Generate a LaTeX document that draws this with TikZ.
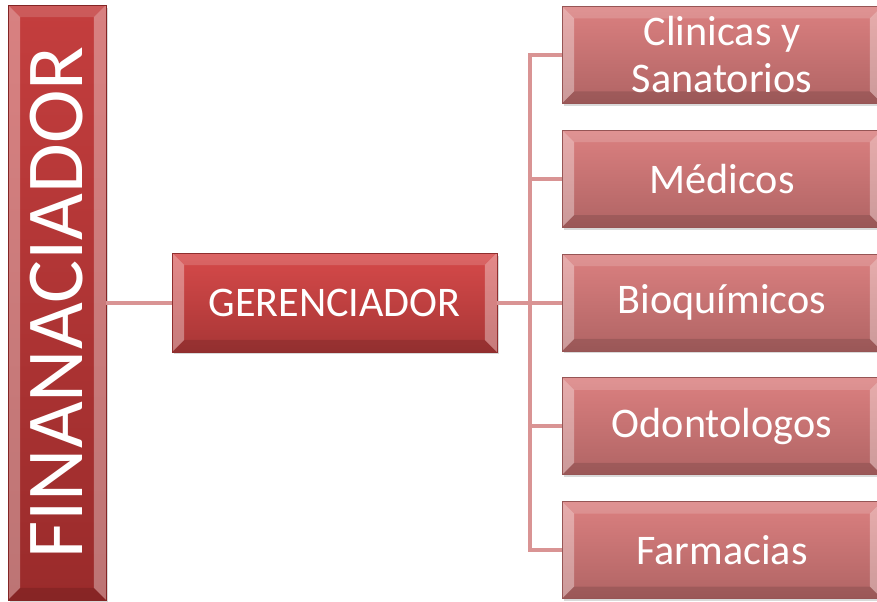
\documentclass[tikz,border=0pt]{standalone}
\usepackage{fontspec}
\setmainfont{Carlito}
\usetikzlibrary{positioning,shadows}

\definecolor{finTop}{HTML}{C43E3E}
\definecolor{finBot}{HTML}{9A2B2B}
\definecolor{gerTop}{HTML}{D64A4A}
\definecolor{gerBot}{HTML}{A83636}
\definecolor{preTop}{HTML}{DB8080}
\definecolor{preBot}{HTML}{B06464}
\definecolor{linkCol}{HTML}{D99494}

\def\bev{0.24cm}

\tikzset{
    bevelbox/.style 2 args={
        top color=#1, bottom color=#2, draw=#2!85!black, line width=0.5pt,
        text=white, inner sep=0pt, font=\fontsize{24}{27}\selectfont,
        drop shadow={shadow xshift=0.04cm, shadow yshift=-0.05cm, opacity=0.3},
        path picture={
            \def\pb{path picture bounding box}
            \fill[white, opacity=0.15] (\pb.north west) -- (\pb.north east)
                -- ([shift={(-\bev,-\bev)}]\pb.north east) -- ([shift={(\bev,-\bev)}]\pb.north west) -- cycle;
            \fill[black, opacity=0.12] (\pb.south west) -- (\pb.south east)
                -- ([shift={(-\bev,\bev)}]\pb.south east) -- ([shift={(\bev,\bev)}]\pb.south west) -- cycle;
            \fill[white, opacity=0.35] (\pb.north west) -- (\pb.south west)
                -- ([shift={(\bev,\bev)}]\pb.south west) -- ([shift={(\bev,-\bev)}]\pb.north west) -- cycle;
            \fill[white, opacity=0.35] (\pb.north east) -- (\pb.south east)
                -- ([shift={(-\bev,\bev)}]\pb.south east) -- ([shift={(-\bev,-\bev)}]\pb.north east) -- cycle;
        }
    },
    prestador/.style={bevelbox={preTop}{preBot}, minimum width=6.4cm, minimum height=1.94cm},
    link/.style={draw=linkCol, line width=0.08cm}
}

\begin{document}
\begin{tikzpicture}[x=0.02cm, y=-0.02cm]
    % frame
    \useasboundingbox (0,0) rectangle (877,602);
    % coordinates
    \coordinate (trunk) at (530,0);
    % financiador
    \node[bevelbox={finTop}{finBot}, minimum width=1.96cm, minimum height=11.9cm,
          font=\fontsize{46}{46}\selectfont] (fin) at (57,302.5) {\rotatebox{90}{FINANACIADOR}};
    % gerenciador
    \node[bevelbox={gerTop}{gerBot}, minimum width=6.5cm, minimum height=1.98cm] (ger) at (334.5,302.5) {GERENCIADOR};
    % prestadores
    \node[prestador] (bio) at (722,302.5) {Bioquímicos};
    \node[prestador, above=0.52cm of bio] (med) {Médicos};
    \node[prestador, above=0.52cm of med, align=center] (cli) {Clinicas y\\Sanatorios};
    \node[prestador, below=0.52cm of bio] (odo) {Odontologos};
    \node[prestador, below=0.52cm of odo] (far) {Farmacias};
    % links
    \draw[link] (fin.east) -- (ger.west);
    \draw[link] (ger.east) -- (bio.west);
    \draw[link] (cli.west) -- (trunk |- cli.west) -- (trunk |- far.west) -- (far.west);
    \draw[link] (trunk |- med.west) -- (med.west);
    \draw[link] (trunk |- odo.west) -- (odo.west);
\end{tikzpicture}
\end{document}
